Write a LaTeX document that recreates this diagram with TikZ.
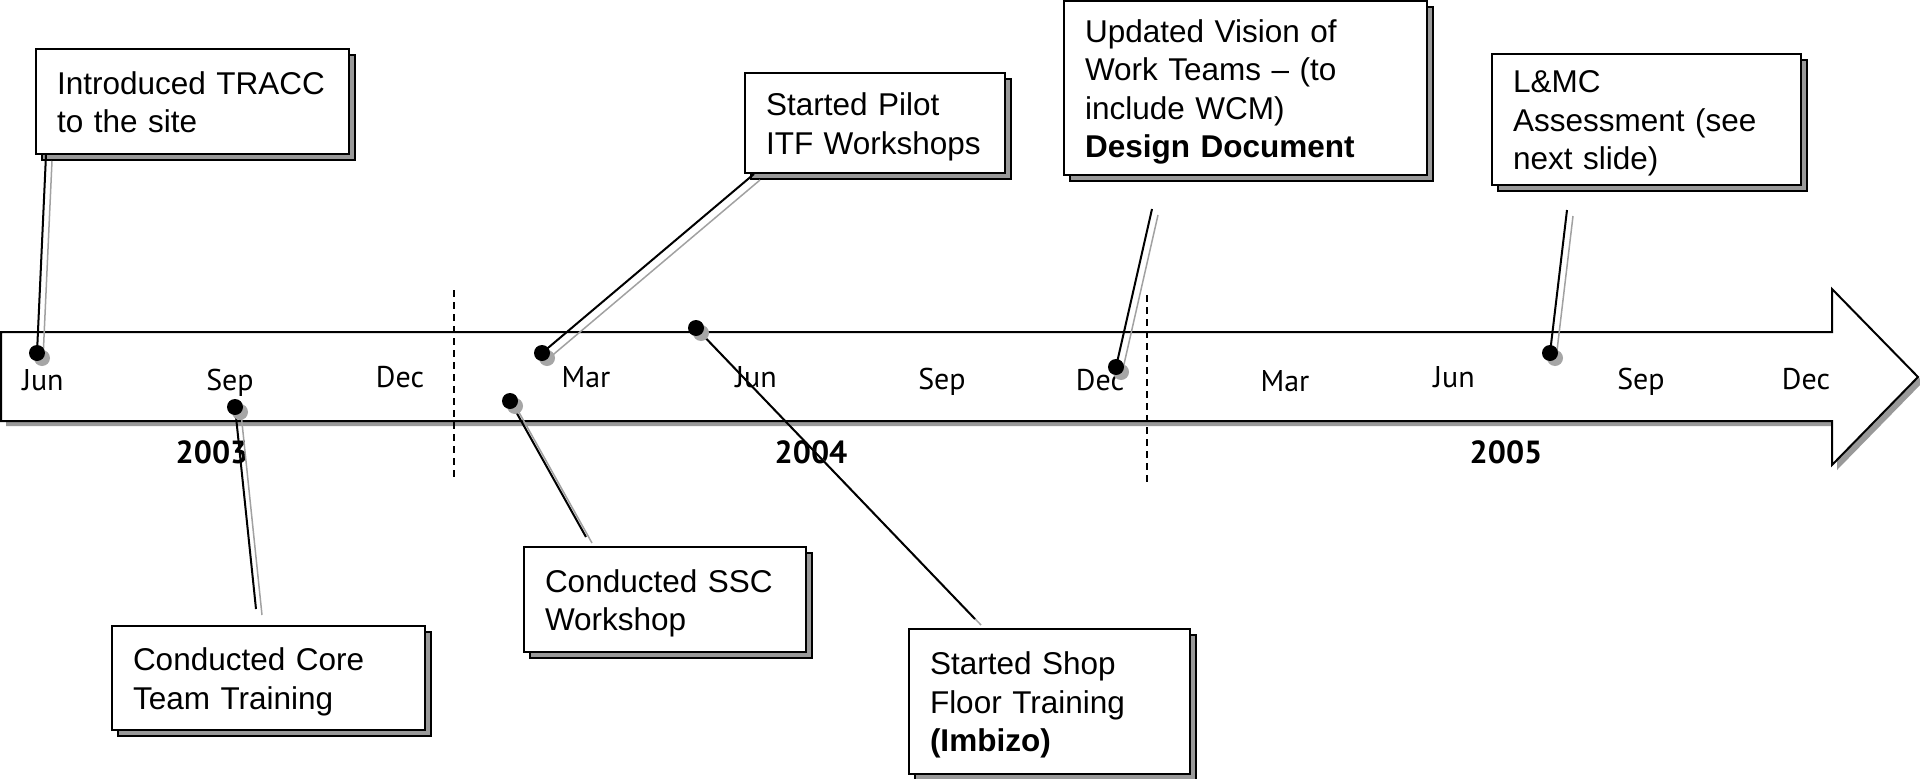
\documentclass[tikz,border=0pt]{standalone}
\usepackage{fontspec}
\setmainfont{Liberation Sans}
\newfontfamily\monthfont{PT Sans}
\usetikzlibrary{shadows}
\newcommand\boxtop{\rule{0pt}{31pt}}
\newcommand\boxbot{\rule[-7.5pt]{0pt}{7.5pt}}

\begin{document}
\begin{tikzpicture}[x=1pt,y=-1pt,
		event/.style={draw=black,line width=2pt,fill=white,align=left,inner xsep=21pt,inner ysep=0pt,font=\fontsize{31.5}{38.5}\selectfont,
			general shadow={shadow xshift=6pt,shadow yshift=-6pt,fill=black!40,draw=black,line width=1.5pt}},
		pin/.style={circle,fill=black,inner sep=0pt,minimum size=16pt,
			general shadow={shadow xshift=5pt,shadow yshift=-5pt,fill=black!35}},
		month/.style={anchor=base,font=\monthfont\fontsize{30}{35}\selectfont},
		year/.style={anchor=base,font=\monthfont\bfseries\fontsize{32}{38}\selectfont},
		lead/.style={line width=2pt,black},
		leadshade/.style={line width=1.5pt,black!37},
		split/.style={line width=1.5pt,dash pattern=on 7pt off 5pt}]
			\useasboundingbox (0,0) rectangle (1920,779);
			
			\fill[black!40,shift={(5,5)}] (1,332) -- (1832,332) -- (1832,289) -- (1918,377) -- (1832,465) -- (1832,421) -- (1,421) -- cycle;
			\draw[line width=2pt,fill=white] (1,332) -- (1832,332) -- (1832,289) -- (1918,377) -- (1832,465) -- (1832,421) -- (1,421) -- cycle;
			
			\draw[split] (454,290) -- (454,479);
			\draw[split] (1147,295) -- (1147,482);
			
			\node[month] (lbl-jun03) at (43,390) {Jun};
			\node[month] (lbl-sep03) at (230,390) {Sep};
			\node[month] (lbl-dec03) at (400,387) {Dec};
			\node[month] (lbl-mar04) at (586,387) {Mar};
			\node[month] (lbl-jun04) at (756,387) {Jun};
			\node[month] (lbl-sep04) at (942,389) {Sep};
			\node[month] (lbl-dec04) at (1100,390) {Dec};
			\node[month] (lbl-mar05) at (1285,391) {Mar};
			\node[month] (lbl-jun05) at (1454,387) {Jun};
			\node[month] (lbl-sep05) at (1641,389) {Sep};
			\node[month] (lbl-dec05) at (1806,389) {Dec};
			
			\node[year] (yr2003) at (212,463) {2003};
			\node[year] (yr2004) at (811,463) {2004};
			\node[year] (yr2005) at (1506,463) {2005};
			
			\node[event,text width=271pt,minimum height=105pt] (tracc) at (192.5,101.5) {\boxtop Introduced TRACC\\to the site\boxbot};
			\node[event,text width=271pt,minimum height=104pt] (core) at (268.5,678) {\boxtop Conducted Core\\Team Training\boxbot};
			\node[event,text width=240pt,minimum height=105pt] (ssc) at (665,599.5) {\boxtop Conducted SSC\\Workshop\boxbot};
			\node[event,text width=218pt,minimum height=100pt] (pilot) at (875,123) {\boxtop Started Pilot\\ITF Workshops\boxbot};
			\node[event,text width=321pt,minimum height=174pt] (vision) at (1245.5,88) {\boxtop Updated Vision of\\Work Teams – (to\\include WCM)\\\textbf{Design Document}\boxbot};
			\node[event,text width=239pt,minimum height=145pt] (shop) at (1049.5,701.5) {\boxtop Started Shop\\Floor Training\\\textbf{(Imbizo)}\boxbot};
			\node[event,text width=267pt,minimum height=131pt] (lmc) at (1646.5,119.5) {\boxtop L\&MC\\Assessment (see\\next slide)\boxbot};
			
			\coordinate (at-tracc) at (37,353);
			\coordinate (at-core) at (235,407);
			\coordinate (at-ssc) at (510,401);
			\coordinate (at-pilot) at (542,353);
			\coordinate (at-shop) at (696,328);
			\coordinate (at-vision) at (1116,367);
			\coordinate (at-lmc) at (1550,353);
			
			\coordinate (core-foot) at (256,609);
			\coordinate (ssc-foot) at (586,537);
			\coordinate (shop-foot) at (975,619);
			\coordinate (vision-foot) at (1152,209);
			\coordinate (lmc-foot) at (1567,210);
			
			\draw[leadshade] ([shift={(17,6)}]tracc.south west) -- ([shift={(6,6)}]at-tracc);
			\draw[leadshade] ([shift={(6,6)}]at-core) -- ([shift={(6,6)}]core-foot);
			\draw[leadshade] ([shift={(6,6)}]at-ssc) -- ([shift={(6,6)}]ssc-foot);
			\draw[leadshade] ([shift={(16,6)}]pilot.south west) -- ([shift={(6,6)}]at-pilot);
			\draw[leadshade] ([shift={(6,6)}]at-shop) -- ([shift={(6,6)}]shop-foot);
			\draw[leadshade] ([shift={(6,6)}]vision-foot) -- ([shift={(6,6)}]at-vision);
			\draw[leadshade] ([shift={(6,6)}]lmc-foot) -- ([shift={(6,6)}]at-lmc);
			
			\draw[lead] ([xshift=11pt]tracc.south west) -- (at-tracc);
			\draw[lead] (at-core) -- (core-foot);
			\draw[lead] (at-ssc) -- (ssc-foot);
			\draw[lead] ([xshift=10pt]pilot.south west) -- (at-pilot);
			\draw[lead] (at-shop) -- (shop-foot);
			\draw[lead] (vision-foot) -- (at-vision);
			\draw[lead] (lmc-foot) -- (at-lmc);
			
			\node[pin] (pin-tracc) at (at-tracc) {};
			\node[pin] (pin-core) at (at-core) {};
			\node[pin] (pin-ssc) at (at-ssc) {};
			\node[pin] (pin-pilot) at (at-pilot) {};
			\node[pin] (pin-shop) at (at-shop) {};
			\node[pin] (pin-vision) at (at-vision) {};
			\node[pin] (pin-lmc) at (at-lmc) {};
		\end{tikzpicture}
\end{document}
